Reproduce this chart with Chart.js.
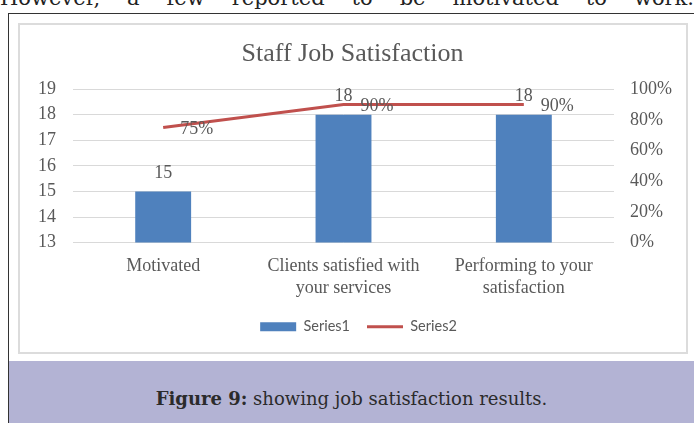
<!DOCTYPE html>
<html>
<head>
<meta charset="utf-8">
<title>Staff Job Satisfaction</title>
<script src="https://cdn.jsdelivr.net/npm/chart.js@4.4.0/dist/chart.umd.min.js"></script>
<style>
  html, body { margin: 0; padding: 0; width: 694px; height: 423px; overflow: hidden; background: #fff; }
  .lead {
    position: absolute; left: 0; top: -15px; width: 694px;
    font: 21px/26px 'DejaVu Serif', serif; color: #222;
    text-align: justify; text-align-last: justify;
  }
  .frame {
    position: absolute; left: 8px; top: 13px; width: 720px; height: 430px;
    border-left: 1px solid #333; border-top: 1px solid #333;
  }
  .chart-box {
    position: absolute; left: 18px; top: 23px; width: 666px; height: 327px;
    border: 2px solid #dcdcdc; background: #fff;
  }
  .chart-box canvas { position: absolute; left: -1px; top: -1px; }
  .caption {
    position: absolute; left: 9px; top: 361px; width: 685px; height: 35px;
    padding-top: 27px;
    background: #b3b3d4; color: #2b2b2b;
    font: 18px/22px 'DejaVu Serif', serif; text-align: center;
  }
  .caption b { font-weight: bold; }
</style>
</head>
<body>
<div class="lead">However, a few reported to be motivated to work.</div>
<div class="frame"></div>
<div class="chart-box"><canvas id="satisfactionChart" width="667" height="328"></canvas></div>
<div class="caption"><b>Figure 9:</b> showing job satisfaction results.</div>

<script>
// Categories and values
const categories = ['Motivated', ['Clients satisfied with', 'your services'], ['Performing to your', 'satisfaction']];
const series1 = [15, 18, 18];
const series2 = [0.75, 0.90, 0.90];
const countRange = [13, 19];
const shareRange = [0, 1];

const TEXT_COLOR = '#595959';
const SERIF = '"Liberation Serif", "Times New Roman", serif';

// Draws the value labels above bars and to the right of line points
const valueLabels = {
  id: 'valueLabels',
  afterLayout(chart) {
    // legend sits a little right of the canvas centre
    chart.legend.left += 6;
    chart.legend.right += 6;
  },
  afterDatasetsDraw(chart) {
    const ctx = chart.ctx;
    ctx.save();
    ctx.font = '18px ' + SERIF;
    ctx.fillStyle = TEXT_COLOR;
    ctx.textBaseline = 'middle';

    ctx.textAlign = 'center';
    chart.getDatasetMeta(0).data.forEach((bar, i) => {
      ctx.fillText(String(series1[i]), bar.x, bar.y - 18);
    });

    ctx.textAlign = 'left';
    chart.getDatasetMeta(1).data.forEach((pt, i) => {
      ctx.fillText(Math.round(series2[i] * 100) + '%', pt.x + 17, pt.y + 2);
    });
    ctx.restore();
  }
};

const ctx = document.getElementById('satisfactionChart').getContext('2d');

new Chart(ctx, {
  type: 'bar',
  data: {
    labels: categories,
    datasets: [
      {
        type: 'bar',
        label: 'Series1',
        data: series1,
        yAxisID: 'y',
        backgroundColor: '#4f81bd',
        borderWidth: 0,
        pointStyle: 'rect',
        barPercentage: 0.31,
        categoryPercentage: 1
      },
      {
        type: 'line',
        label: 'Series2',
        data: series2,
        yAxisID: 'y1',
        borderColor: '#c0504d',
        backgroundColor: '#c0504d',
        borderWidth: 3,
        pointRadius: 0,
        pointStyle: 'line',
        tension: 0
      }
    ]
  },
  options: {
    responsive: false,
    animation: false,
    layout: { padding: { top: 0, bottom: 8, left: 0, right: 0 } },
    plugins: {
      title: {
        display: true,
        text: 'Staff Job Satisfaction',
        color: TEXT_COLOR,
        font: { family: SERIF, size: 26, weight: 'normal' },
        padding: { top: 15, bottom: 19 }
      },
      legend: {
        position: 'bottom',
        labels: {
          usePointStyle: true,
          pointStyleWidth: 36,
          boxHeight: 9,
          padding: 17,
          color: TEXT_COLOR,
          font: { family: 'Lato, "Liberation Sans", sans-serif', size: 14.5 }
        }
      },
      tooltip: { enabled: false }
    },
    scales: {
      x: {
        grid: { display: false, drawTicks: false },
        border: { display: false },
        ticks: {
          color: TEXT_COLOR,
          autoSkip: false,
          maxRotation: 0,
          padding: 13,
          font: { family: SERIF, size: 18, lineHeight: 1.22 }
        },
        afterFit(scale) { scale.height -= 10; }
      },
      y: {
        position: 'left',
        min: countRange[0],
        max: countRange[1],
        grid: { color: '#d9d9d9', drawTicks: false },
        border: { display: false },
        ticks: {
          stepSize: 1,
          autoSkip: false,
          color: TEXT_COLOR,
          padding: 17,
          font: { family: SERIF, size: 18 }
        },
        afterFit(scale) { scale.width = 54; }
      },
      y1: {
        position: 'right',
        min: shareRange[0],
        max: shareRange[1],
        grid: { display: false, drawTicks: false },
        border: { display: false },
        ticks: {
          stepSize: 0.2,
          autoSkip: false,
          color: TEXT_COLOR,
          padding: 16,
          font: { family: SERIF, size: 18 },
          callback: v => Math.round(v * 100) + '%'
        },
        afterFit(scale) { scale.width = 72; }
      }
    }
  },
  plugins: [valueLabels]
});
</script>
</body>
</html>
